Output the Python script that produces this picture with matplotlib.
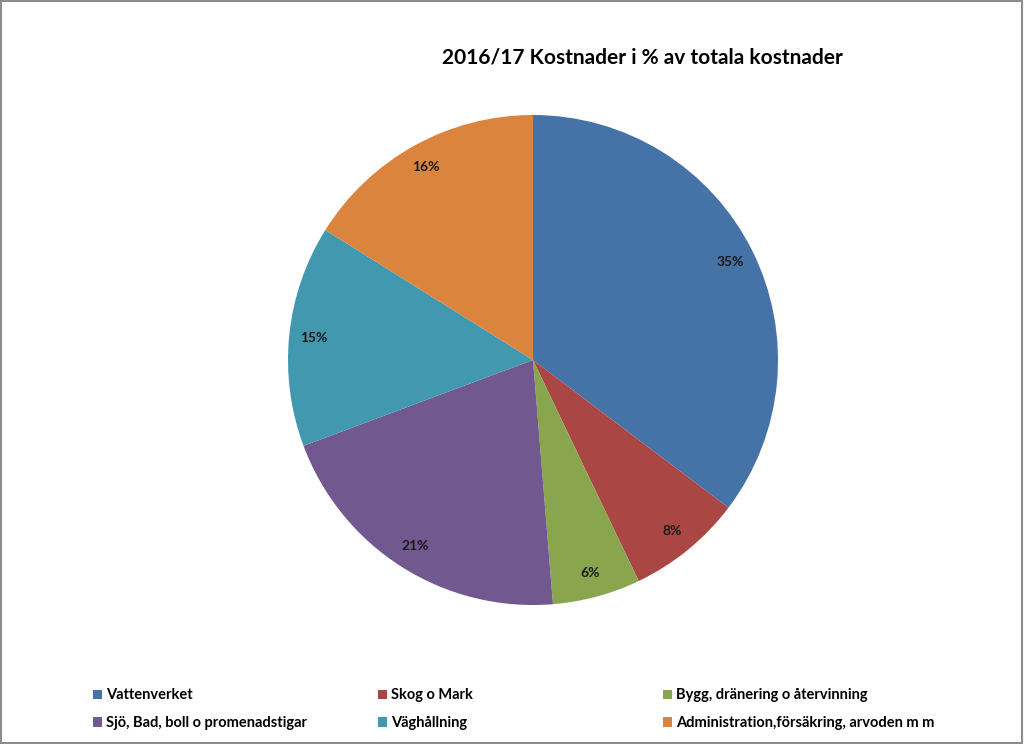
import matplotlib.pyplot as plt
from matplotlib.patches import Rectangle

plt.rcParams['font.family'] = ['Lato', 'DejaVu Sans']

title = "2016/17 Kostnader i % av totala kostnader"
categories = ["Vattenverket", "Skog o Mark", "Bygg, dränering o återvinning",
              "Sjö, Bad, boll o promenadstigar", "Väghållning",
              "Administration,försäkring, arvoden m m"]
values = [35.3, 7.6, 5.8, 20.6, 14.6, 16.1]
colors = ["#4572A7", "#AA4643", "#89A54E", "#71588F", "#4198AF", "#DB843D"]

fig = plt.figure(figsize=(10.24, 7.44), dpi=100)
fig.patches.append(Rectangle((0.001, 0.002), 0.997, 0.996, transform=fig.transFigure,
                             fill=False, edgecolor="#8c8c8c", linewidth=1.5))

ax = fig.add_axes([288 / 1024, 139 / 744, 490 / 1024, 490 / 744])
wedges, _, autotexts = ax.pie(values, colors=colors, startangle=90, counterclock=False,
                              autopct="%1.0f%%", pctdistance=0.9,
                              wedgeprops=dict(linewidth=0))
for t in autotexts:
    t.set_fontsize(10)
    t.set_fontweight("bold")
    t.set_color("#1a1a1a")
ax.set_aspect("equal")
ax.set_xlim(-1, 1)
ax.set_ylim(-1, 1)

fig.text(642 / 1024, 1 - 58 / 744, title, ha="center", va="center",
         fontsize=15, fontweight="bold")

col_x = [86, 371, 656]
for c in range(3):
    idx = [c, c + 3]
    leg = fig.legend([wedges[i] for i in idx], [categories[i] for i in idx],
                     loc="upper left", bbox_to_anchor=(col_x[c] / 1024, 1 - 681 / 744),
                     frameon=False, handlelength=0.6, handleheight=0.6,
                     handletextpad=0.3, labelspacing=0.95, borderpad=0,
                     prop=dict(size=10.5, weight="bold"))
    for p in leg.get_patches():
        p.set_edgecolor("none")

fig.savefig("out.png", dpi=100)
